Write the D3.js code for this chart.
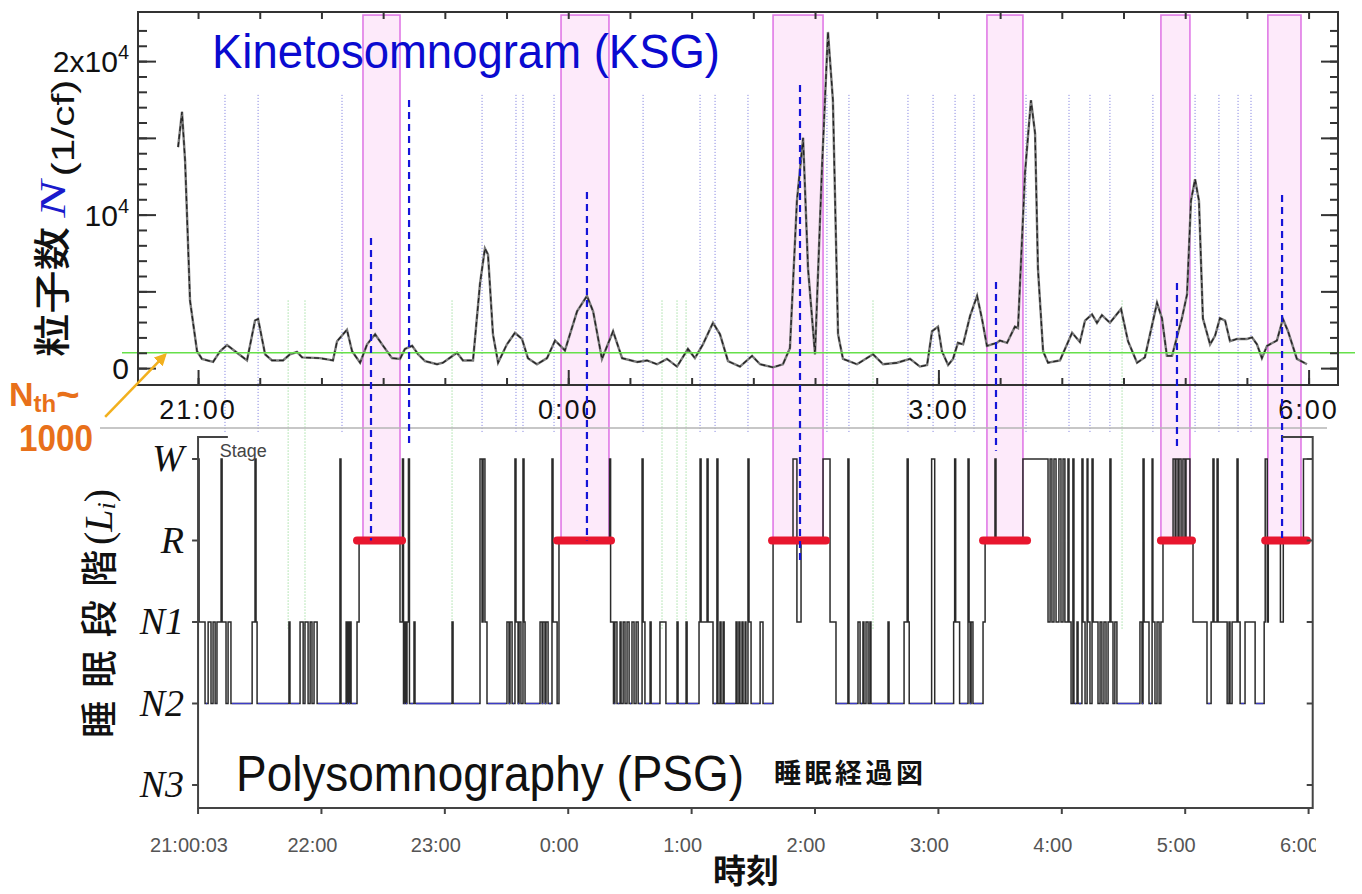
<!DOCTYPE html>
<html>
<head>
<meta charset="utf-8">
<script src="https://cdn.jsdelivr.net/npm/d3@7"></script>
<style>body{margin:0;background:#fff}</style>
</head>
<body>
<div id="chart"></div>
<script>
// time is minutes after 21:00
const ksgTimes = [-9.7,-7.8,-6.3,-3.9,-0.5,1.9,7.3,10.7,14.1,18.0,23.8,27.7,29.2,32.6,36.0,41.3,44.7,48.1,50.6,59.3,65.6,67.6,72.4,74.9,78.8,82.2,86.1,90.0,94.3,98.2,100.6,104.1,107.0,110.4,116.2,119.1,125.9,128.8,133.7,137.1,139.5,141.0,143.4,145.9,150.2,154.1,157.5,160.4,164.8,169.7,173.6,178.4,184.3,189.1,192.1,196.4,201.8,206.2,213.5,218.3,223.2,228.0,232.9,238.2,241.6,245.5,250.4,253.8,257.7,263.5,269.4,273.3,279.6,284.4,287.8,291.2,294.2,296.6,300.0,303.4,306.3,308.7,311.2,313.6,320.4,328.2,333.1,339.9,346.2,351.0,354.5,356.9,359.8,361.7,364.7,367.1,369.5,372.0,375.4,378.8,381.2,383.6,388.5,389.9,393.4,397.2,398.7,402.1,405.0,407.0,408.4,410.9,413.3,419.1,425.0,428.8,431.3,434.7,437.1,439.5,443.4,448.8,452.2,456.6,460.4,466.3,468.7,471.1,473.6,478.4,480.9,482.8,484.8,486.7,488.6,492.1,494.5,496.9,499.4,501.8,505.2,510.0,512.5,514.9,517.3,519.8,524.6,527.5,530.0,534.3,539.2]
const ksgValues = [14400,16700,13500,4400,1100,600,400,1100,1500,1100,500,3100,3200,900,500,500,900,1050,700,650,500,1750,2500,1100,350,1550,2200,1450,650,600,1250,1450,900,450,250,350,1000,500,500,5500,7800,7400,2200,350,1550,2300,1900,650,250,650,1800,1150,3700,4700,3700,600,2400,650,400,500,250,600,100,1250,650,1550,2950,2200,450,100,800,250,50,250,1300,10900,15000,6500,900,13100,21900,17450,2200,600,250,900,250,350,600,100,200,2400,2700,1100,200,600,1650,1550,3400,4700,3200,1450,1650,1800,1650,2700,2600,12700,17450,15300,6500,1100,350,500,2300,1700,3100,3500,2950,3450,2950,3850,1750,350,700,4250,3250,800,800,3250,4800,10900,12300,10900,3250,1550,2100,3250,3100,1750,1900,1900,2000,1550,650,1450,1800,3200,2400,600,250]
const threshold = 1000

const stageNames = ["W", "R", "N1", "N2", "N3"]
const hypTimes = [0,0.5,3.4,4.9,6.3,7.3,8.3,9.2,11.2,11.7,13.6,14.6,16.0,26.3,27.7,28.2,28.7,44.2,44.7,49.6,51.1,52.0,53.5,54.5,55.4,56.4,57.9,69.0,69.5,72.0,72.4,72.9,73.4,73.9,74.4,77.3,78.3,98.2,99.4,99.9,100.6,101.1,101.6,102.3,102.8,105.0,105.5,123.5,124.0,137.1,138.1,138.6,139.5,140.5,150.2,151.2,151.7,152.7,154.1,154.6,155.6,156.1,157.0,158.0,158.5,159.0,166.3,167.3,167.7,168.7,169.2,170.2,172.1,172.6,174.6,175.5,200.1,200.6,202.0,202.7,203.7,205.2,205.7,206.7,207.6,208.6,209.6,211.0,212.0,213.0,214.0,215.9,216.4,217.3,219.8,220.3,224.6,227.5,232.9,233.4,237.3,237.8,243.6,244.1,244.6,247.5,248.0,250.4,252.3,252.8,253.8,254.3,255.3,255.8,261.6,262.1,263.0,263.5,264.5,265.0,266.0,266.4,267.4,267.9,268.9,273.3,274.7,279.6,289.3,291.2,293.2,303.9,307.3,310.2,316.0,316.5,320.9,321.9,323.3,323.8,324.8,325.8,326.7,327.2,335.5,336.0,343.3,344.8,345.3,345.8,356.7,358.2,367.4,367.9,368.4,370.3,374.4,374.9,375.4,375.9,376.8,381.7,382.7,387.5,388.0,401.1,413.3,414.3,415.2,416.2,417.2,418.6,419.6,420.6,421.5,423.0,423.5,424.5,425.4,425.9,427.4,427.9,429.8,430.3,431.3,432.3,432.7,433.7,434.7,435.2,437.6,438.6,439.5,440.5,441.5,442.5,443.4,443.9,444.9,445.8,446.8,458.0,459.0,459.5,460.0,462.4,463.9,464.3,465.3,466.3,467.3,468.2,469.2,474.1,475.1,475.5,476.5,477.0,478.0,478.9,479.9,480.4,482.3,483.8,490.6,492.6,493.5,494.0,495.5,496.0,500.4,501.3,501.8,502.8,505.2,505.7,506.7,509.1,514.0,518.4,518.9,519.9,520.4,526.3,527.7,537.5]
const hypStages = ["W","N1","N2","N1","N2","N1","N2","N1","W","N1","N2","N1","N2","N1","W","N1","N2","N1","N2","N1","N2","N1","N2","N1","N2","N1","N2","W","N2","N1","N2","N1","N2","N1","N2","N1","R","N1","W","N2","N1","N2","N1","W","N2","N1","N2","N1","N2","W","N1","W","N1","N2","N1","N2","N1","N2","W","N1","N2","N1","N2","W","N1","N2","N1","N2","N1","N2","N1","N2","W","N1","N2","R","W","N1","N2","N1","N2","N1","N2","N1","N2","N1","N2","N1","N2","N1","N2","W","N1","N2","N1","N2","N1","N2","N1","N2","N1","N2","N1","W","N1","W","N1","N2","W","N2","N1","N2","N1","N2","N1","N2","N1","N2","N1","N2","N1","N2","W","N1","N2","N1","N2","R","W","N1","R","W","N1","N2","W","N2","N1","N2","N1","N2","N1","N2","N1","N2","N1","N2","N1","W","N1","N2","W","N2","N1","W","N1","N2","W","N1","N2","N1","N2","N1","R","W","R","W","N1","W","N1","W","N1","W","N1","W","N1","W","N1","N2","W","N2","N1","N2","W","N1","N2","W","N1","N2","W","N1","N2","N1","N2","N1","N2","N1","W","N1","N2","N1","N2","N1","N2","W","N1","N2","W","N1","N2","N1","N2","N1","R","W","R","W","R","W","R","W","R","W","R","N1","N2","N1","W","N1","W","N1","N2","N1","N2","N1","W","N1","N2","N1","N2","N1","W","N1","R","N1","R","W"]
const hypEnd = 542

// REM windows seen in KSG, red REM bars, dashed markers
const remStart = [80.2, 176.5, 279.6, 383.6, 468.2, 520.2]
const remEnd = [98.2, 199.8, 303.9, 401.1, 482.3, 536.3]
const barStart = [77.3, 174.6, 279.1, 381.7, 468.2, 518.9]
const barEnd = [99.2, 200.8, 305.3, 403.1, 483.3, 539.2]
const markerTimes = [84.1, 102.6, 189.1, 292.7, 388.0, 476.0, 527.1]
const markerTop = [8480, 17460, 11470, 18440, 5610, 5540, 11280]
const markerBottom = [1, -0.15, 1, 1.3, -0.1, -0.12, 1]
const blueDotTimes = [13.1, 29.2, 70.0, 138.1, 154.6, 158.0, 173.1, 216.4, 244.1, 251.4, 267.4, 305.8, 316.5, 345.2, 357.4, 368.1, 377.3, 402.6, 423.5, 433.7, 443.4, 464.3, 484.8, 496.4, 505.7, 512.0]
const greenDotTimes = [43.8, 52.0, 123.5, 225.6, 232.9, 237.3, 328.2, 449.3]

const yMinorTicks = d3.range(0, 22001, 1000)
const yMajorTicks = [0, 5000, 10000, 15000, 20000]
const yTickBase = ["0", "10", "2x10"]
const yTickExp = ["", "4", "4"]
const yTickValues = [0, 10000, 20000]
const topTimeTicks = [0, 180, 360, 540]
const topTimeLabels = ["21:00", "0:00", "3:00", "6:00"]
const bottomTimeTicks = [0, 60, 120, 180, 240, 300, 360, 420, 480, 540]
const bottomTimeLabels = ["21:00:03", "22:00", "23:00", "0:00", "1:00", "2:00", "3:00", "4:00", "5:00", "6:00"]

const width = 1362
const height = 894
const sans = "'Liberation Sans', Arial, sans-serif"
const serif = "'Liberation Serif', 'Times New Roman', serif"
const cjk = "'Noto Sans CJK JP', sans-serif"

const svg = d3.select("#chart").append("svg").attr("width", width).attr("height", height).style("font-family", sans)

const x = d3.scaleLinear().domain([-29.2, 554.3]).range([138, 1338])
const y = d3.scaleLinear().domain([-1100, 23200]).range([385, 12])
const ys = d3.scaleLinear().domain([0, 4]).range([459, 785])
const yStage = s => ys(stageNames.indexOf(s))

const frameTop = {left: 138, right: 1338, top: 12, bottom: 385}
const sepY = 428
const stageTop = 437
const stageBottom = 808

// pink REM windows
svg.append("g").selectAll("rect").data(remStart).join("rect")
    .attr("x", d => x(d))
    .attr("width", (d, i) => x(remEnd[i]) - x(d))
    .attr("y", y(23000))
    .attr("height", yStage("R") - y(23000))
    .attr("fill", "#fdeafa")
    .attr("stroke", "#e07ae6")
    .attr("stroke-width", 1.6)

// dotted event lines
svg.append("g").selectAll("line").data(blueDotTimes).join("line")
    .attr("x1", d => x(d)).attr("x2", d => x(d))
    .attr("y1", y(17800)).attr("y2", sepY + 4)
    .attr("stroke", "#5a5ad8").attr("stroke-width", 1)
    .attr("stroke-dasharray", "1,2").attr("opacity", 0.8)
svg.append("g").selectAll("line").data(greenDotTimes).join("line")
    .attr("x1", d => x(d)).attr("x2", d => x(d))
    .attr("y1", y(4400)).attr("y2", ys(2.1))
    .attr("stroke", "#5cc85c").attr("stroke-width", 1)
    .attr("stroke-dasharray", "1,2").attr("opacity", 0.8)

// separator under the top chart
svg.append("line").attr("x1", 100).attr("x2", 1327).attr("y1", sepY).attr("y2", sepY)
    .attr("stroke", "#b5b5b5").attr("stroke-width", 1.5)

// KSG curve
const ksg = ksgTimes.map((t, i) => [t, ksgValues[i]])
const line = d3.line().x(d => x(d[0])).y(d => y(d[1]))
svg.append("path").attr("d", line(ksg)).attr("fill", "none")
    .attr("stroke", "#7a7a7a").attr("stroke-width", 2.4)
svg.append("path").attr("d", line(ksg)).attr("fill", "none")
    .attr("stroke", "#222").attr("stroke-width", 1.3).attr("stroke-dasharray", "5,3")

// threshold line
svg.append("line").attr("x1", 122).attr("x2", 1355)
    .attr("y1", y(threshold)).attr("y2", y(threshold))
    .attr("stroke", "#66e04a").attr("stroke-width", 1.6)

// top frame and ticks
svg.append("rect").attr("x", frameTop.left).attr("y", frameTop.top)
    .attr("width", frameTop.right - frameTop.left).attr("height", frameTop.bottom - frameTop.top)
    .attr("fill", "none").attr("stroke", "#333").attr("stroke-width", 2)

function tickGroup(axis, tx, ty) {
    const g = svg.append("g").attr("transform", `translate(${tx},${ty})`).call(axis)
    g.select(".domain").remove()
    g.selectAll(".tick line").attr("stroke", "#333").attr("stroke-width", 2)
    return g
}
tickGroup(d3.axisRight(y).tickValues(yMinorTicks).tickSize(9).tickFormat(""), frameTop.left, 0)
tickGroup(d3.axisRight(y).tickValues(yMajorTicks).tickSize(18).tickFormat(""), frameTop.left, 0)
tickGroup(d3.axisLeft(y).tickValues(yMinorTicks).tickSize(8).tickFormat(""), frameTop.right, 0)
tickGroup(d3.axisLeft(y).tickValues(yMajorTicks).tickSize(17).tickFormat(""), frameTop.right, 0)
tickGroup(d3.axisTop(x).tickValues(d3.range(0, 541, 30)).tickSize(7).tickFormat(""), 0, frameTop.bottom)
tickGroup(d3.axisTop(x).tickValues(topTimeTicks).tickSize(15).tickFormat(""), 0, frameTop.bottom)
tickGroup(d3.axisBottom(x).tickValues(d3.range(0, 541, 30)).tickSize(7).tickFormat(""), 0, frameTop.top)

// top y labels
const yl = svg.append("g").selectAll("text").data(yTickValues).join("text")
    .attr("x", 129).attr("y", d => y(d) + 11)
    .attr("text-anchor", "end").attr("font-size", 30).attr("fill", "#111")
yl.append("tspan").text((d, i) => yTickBase[i])
yl.append("tspan").attr("font-size", 20).attr("dy", -13).text((d, i) => yTickExp[i])

// top x labels
svg.append("g").selectAll("text").data(topTimeTicks).join("text")
    .attr("x", d => x(d)).attr("y", 419)
    .attr("text-anchor", "middle").attr("font-size", 27).attr("letter-spacing", 2)
    .attr("fill", "#111")
    .text((d, i) => topTimeLabels[i])

// hypnogram
const hyp = hypTimes.map((t, i) => [t, hypStages[i]])
hyp.push([hypEnd, hypStages[hypStages.length - 1]])
const stepLine = d3.line().curve(d3.curveStepAfter).x(d => x(d[0])).y(d => yStage(d[1]))
svg.append("path").attr("d", stepLine(hyp)).attr("fill", "none")
    .attr("stroke", "#2b2b2b").attr("stroke-width", 1.5)
svg.append("g").selectAll("line").data(hyp.slice(0, -1).map((d, i) => [d, hyp[i + 1]]).filter(p => p[0][1] === "N2")).join("line")
    .attr("x1", p => x(p[0][0]) + 1).attr("x2", p => x(p[1][0]) - 1)
    .attr("y1", yStage("N2")).attr("y2", yStage("N2"))
    .attr("stroke", "#3c3cc8").attr("stroke-width", 1.3)

// red REM bars
svg.append("g").selectAll("line").data(barStart).join("line")
    .attr("x1", d => x(d)).attr("x2", (d, i) => x(barEnd[i]))
    .attr("y1", yStage("R")).attr("y2", yStage("R"))
    .attr("stroke", "#e8162e").attr("stroke-width", 8).attr("stroke-linecap", "round")

// dashed blue markers
svg.append("g").selectAll("line").data(markerTimes).join("line")
    .attr("x1", d => x(d)).attr("x2", d => x(d))
    .attr("y1", (d, i) => y(markerTop[i])).attr("y2", (d, i) => ys(markerBottom[i]))
    .attr("stroke", "#1414d8").attr("stroke-width", 2.2).attr("stroke-dasharray", "7,5")

// bottom frame
const sf = svg.append("g").attr("stroke", "#444").attr("stroke-width", 2).attr("fill", "none")
sf.append("path").attr("d", `M${x(14.5)},${stageTop}H${x(0)}V${stageBottom}H${x(hypEnd)}V${stageTop}H${x(527)}`)
svg.append("g").selectAll("line").data(stageNames).join("line")
    .attr("x1", x(0) - 6).attr("x2", x(0))
    .attr("y1", d => yStage(d)).attr("y2", d => yStage(d))
    .attr("stroke", "#444").attr("stroke-width", 2)
svg.append("g").selectAll("line").data(stageNames).join("line")
    .attr("x1", x(hypEnd) - 6).attr("x2", x(hypEnd))
    .attr("y1", d => yStage(d)).attr("y2", d => yStage(d))
    .attr("stroke", "#444").attr("stroke-width", 2)
svg.append("g").selectAll("line").data(bottomTimeTicks).join("line")
    .attr("x1", d => x(d)).attr("x2", d => x(d))
    .attr("y1", stageBottom).attr("y2", stageBottom + 6)
    .attr("stroke", "#444").attr("stroke-width", 2)

svg.append("text").attr("x", x(10.5)).attr("y", 457).attr("font-size", 18).attr("fill", "#444").text("Stage")

// stage labels
svg.append("g").selectAll("text").data(stageNames).join("text")
    .attr("x", 184).attr("y", d => yStage(d) + 12)
    .attr("text-anchor", "end").attr("font-family", serif).attr("font-style", "italic")
    .attr("font-size", 38).attr("fill", "#111")
    .text(d => d)

// bottom time labels
svg.append("clipPath").attr("id", "labclip").append("rect").attr("x", 0).attr("y", 820).attr("width", 1316).attr("height", 50)
svg.append("g").attr("clip-path", "url(#labclip)").selectAll("text").data(bottomTimeTicks).join("text")
    .attr("x", d => x(d) - 9).attr("y", 852)
    .attr("text-anchor", "middle").attr("font-size", 20).attr("fill", "#555")
    .text((d, i) => bottomTimeLabels[i])

// titles
svg.append("text").attr("x", 212).attr("y", 68).attr("font-size", 48).attr("fill", "#0a0ad0")
    .attr("textLength", 508).attr("lengthAdjust", "spacingAndGlyphs")
    .text("Kinetosomnogram (KSG)")
svg.append("text").attr("transform", "translate(236,791) scale(1,1.08)").attr("font-size", 46).attr("fill", "#111")
    .attr("textLength", 508).attr("lengthAdjust", "spacingAndGlyphs")
    .text("Polysomnography (PSG)")
svg.append("text").attr("x", 774).attr("y", 783).attr("font-family", cjk).attr("font-weight", "bold")
    .attr("font-size", 27).attr("fill", "#111")
    .attr("textLength", 149).attr("lengthAdjust", "spacing")
    .text("睡眠経過図")
svg.append("text").attr("x", 746).attr("y", 883).attr("text-anchor", "middle")
    .attr("font-family", cjk).attr("font-weight", "bold").attr("font-size", 33).attr("fill", "#111")
    .text("時刻")

// rotated y titles
function vtext(cx, cy) {
    return svg.append("text").attr("transform", `translate(${cx},${cy}) rotate(-90)`)
        .attr("text-anchor", "middle").attr("dominant-baseline", "central").attr("fill", "#111")
}
vtext(50, 292).attr("font-family", cjk).attr("font-size", 37).attr("font-weight", 500)
    .attr("textLength", 130).attr("lengthAdjust", "spacingAndGlyphs").text("粒子数")
vtext(53, 199).attr("font-family", serif).attr("font-style", "italic").attr("font-size", 36)
    .attr("textLength", 37).attr("lengthAdjust", "spacingAndGlyphs").attr("fill", "#1a1acc").text("N")
vtext(63, 128).attr("font-size", 31).attr("textLength", 97).attr("lengthAdjust", "spacingAndGlyphs").text("(1/cf)")
vtext(97, 644).attr("font-family", cjk).attr("font-size", 37).attr("font-weight", 500)
    .attr("textLength", 188).attr("lengthAdjust", "spacing").text("睡眠段階")
const lt = vtext(98, 517).attr("font-family", serif).attr("font-size", 40)
lt.append("tspan").text("(")
lt.append("tspan").attr("font-style", "italic").text("L")
lt.append("tspan").attr("font-style", "italic").attr("font-size", 26).attr("dy", 8).text("i")
lt.append("tspan").attr("dy", -8).text(")")

// threshold annotation
const head = [x(-16), y(threshold) + 2]
svg.append("defs").append("marker").attr("id", "arr").attr("viewBox", "0 0 10 10")
    .attr("refX", 8).attr("refY", 5).attr("markerWidth", 5).attr("markerHeight", 5).attr("orient", "auto")
    .append("path").attr("d", "M0,0L10,5L0,10z").attr("fill", "#f2b01e")
svg.append("line").attr("x1", head[0] - 60).attr("y1", head[1] + 62).attr("x2", head[0]).attr("y2", head[1])
    .attr("stroke", "#f2b01e").attr("stroke-width", 2.5).attr("marker-end", "url(#arr)")
const nt = svg.append("text").attr("x", 9).attr("y", 406).attr("font-weight", "bold").attr("fill", "#e8701a").attr("font-size", 34)
nt.append("tspan").text("N")
nt.append("tspan").attr("font-size", 24).attr("dy", 6).text("th")
nt.append("tspan").attr("dy", -4).attr("font-size", 40).text("~")
svg.append("text").attr("x", 19).attr("y", 451).attr("font-weight", "bold").attr("fill", "#e8701a")
    .attr("font-size", 36).attr("textLength", 74).attr("lengthAdjust", "spacingAndGlyphs").text("1000")
</script>
</body>
</html>
